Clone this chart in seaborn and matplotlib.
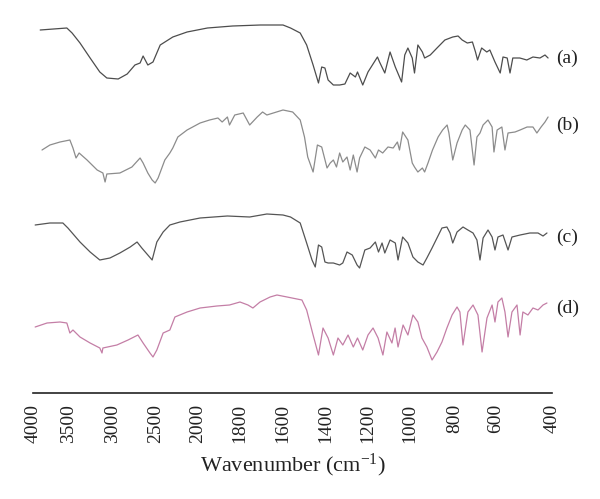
import numpy as np
import matplotlib
matplotlib.use("Agg")
import matplotlib.pyplot as plt
import matplotlib.transforms as mtransforms
import seaborn as sns

# FTIR spectra (a)-(d), transmittance in arbitrary stacked units
wn_a = [3900, 3530, 3465, 3375, 3260, 3150, 3070, 2940, 2835, 2745, 2685, 2650, 2595, 2535, 2450,
        2300, 2130, 1955, 1835, 1705, 1600, 1565, 1520, 1490, 1460, 1435, 1420, 1405, 1390, 1365,
        1335, 1310, 1285, 1260, 1250, 1225, 1200, 1155, 1145, 1120, 1095, 1070, 1040, 1025, 1010,
        990, 980, 965, 945, 935, 910, 880, 845, 810, 785, 765, 740, 715, 700, 690,
        670, 645, 630, 605, 585, 575, 560, 550, 540, 515, 490, 468, 443, 425, 414]
t_a = [370, 372, 367, 357, 342, 328, 322, 321, 326, 335, 337, 344, 335, 338, 355,
       363, 368, 372, 374, 375, 375, 372, 367, 355, 335, 317, 333, 332, 320, 315,
       315, 316, 327, 323, 328, 315, 328, 343, 338, 327, 348, 333, 318, 345, 352,
       342, 327, 355, 348, 342, 345, 352, 360, 363, 364, 360, 357, 358, 348, 340,
       352, 348, 350, 338, 327, 343, 342, 327, 342, 342, 340, 343, 342, 345, 342]

wn_b = [3875, 3765, 3625, 3490, 3455, 3420, 3385, 3295, 3180, 3115, 3090, 3070, 2920, 2780, 2685,
        2650, 2595, 2545, 2510, 2475, 2395, 2335, 2300, 2240, 2130, 1990, 1945, 1905, 1885, 1860,
        1850, 1825, 1785, 1755, 1720, 1695, 1675, 1600, 1555, 1520, 1500, 1485, 1460, 1440, 1420,
        1395, 1380, 1365, 1350, 1335, 1320, 1300, 1285, 1270, 1252, 1240, 1215, 1190, 1165, 1150,
        1130, 1105, 1080, 1060, 1050, 1035, 1010, 990, 980, 965, 945, 935, 920, 900, 875,
        855, 835, 827, 810, 790, 765, 750, 727, 707, 693, 678, 663, 639, 619, 610,
        596, 579, 568, 557, 532, 514, 489, 468, 454, 439, 425, 414]
t_b = [250, 255, 258, 260, 252, 242, 247, 240, 230, 227, 218, 226, 227, 233, 242,
       237, 227, 220, 217, 222, 240, 247, 252, 263, 270, 277, 280, 282, 278, 283,
       275, 285, 287, 275, 283, 288, 285, 290, 288, 280, 263, 243, 228, 255, 253,
       232, 237, 240, 233, 247, 238, 243, 230, 245, 228, 242, 253, 250, 242, 250,
       247, 253, 252, 258, 250, 268, 260, 237, 233, 228, 232, 228, 237, 250, 263,
       270, 275, 267, 240, 257, 270, 275, 270, 235, 263, 267, 275, 280, 273, 248,
       270, 273, 250, 267, 268, 270, 273, 273, 267, 273, 278, 283]

wn_c = [3970, 3765, 3585, 3515, 3375, 3260, 3150, 3035, 2920, 2800, 2720, 2665, 2595, 2545, 2490,
        2415, 2335, 2215, 1990, 1860, 1755, 1675, 1600, 1565, 1520, 1490, 1465, 1450, 1435, 1420,
        1405, 1390, 1365, 1335, 1320, 1300, 1275, 1252, 1240, 1215, 1190, 1165, 1150, 1133, 1120,
        1095, 1070, 1057, 1035, 1010, 987, 965, 942, 925, 902, 880, 858, 836, 822, 810,
        790, 761, 737, 712, 693, 678, 663, 639, 619, 605, 593, 575, 557, 543, 514,
        479, 450, 432, 418]
t_c = [175, 177, 177, 172, 158, 148, 140, 142, 147, 153, 158, 152, 145, 140, 158,
       168, 175, 178, 182, 184, 183, 186, 185, 183, 177, 157, 140, 133, 155, 153,
       138, 137, 137, 135, 137, 148, 145, 135, 132, 150, 152, 158, 148, 157, 147,
       160, 157, 140, 163, 157, 143, 138, 135, 142, 152, 162, 172, 173, 167, 157,
       168, 173, 170, 167, 160, 140, 162, 170, 163, 150, 163, 165, 150, 163, 165,
       167, 167, 164, 167]

wn_d = [3970, 3805, 3625, 3530, 3490, 3455, 3375, 3260, 3150, 3125, 3115, 2955, 2825, 2710, 2650,
        2570, 2535, 2490, 2415, 2335, 2275, 2130, 1990, 1910, 1850, 1800, 1763, 1740, 1707, 1660,
        1628, 1581, 1512, 1490, 1460, 1435, 1414, 1390, 1365, 1343, 1320, 1295, 1270, 1250, 1225,
        1200, 1176, 1152, 1129, 1110, 1086, 1071, 1057, 1033, 1010, 987, 965, 947, 925, 902,
        880, 858, 836, 813, 790, 776, 761, 737, 712, 688, 668, 644, 619, 605, 593,
        579, 568, 557, 543, 525, 514, 504, 486, 468, 450, 432, 418]
t_d = [73, 77, 78, 77, 67, 70, 63, 57, 52, 47, 52, 55, 60, 65, 57,
       47, 43, 50, 67, 70, 83, 88, 92, 94, 95, 98, 95, 92, 98, 103,
       105, 103, 100, 90, 65, 45, 72, 62, 45, 62, 55, 65, 53, 62, 50,
       65, 72, 62, 45, 68, 57, 72, 53, 75, 65, 85, 78, 62, 53, 40,
       48, 58, 72, 85, 93, 88, 55, 88, 95, 85, 48, 82, 95, 78, 98,
       102, 88, 63, 88, 95, 65, 88, 85, 92, 90, 95, 97]

labels = ["(a)", "(b)", "(c)", "(d)"]
label_y = [342, 275, 163, 92]
colors = ["#4d4d4d", "#8c8c8c", "#555555", "#c47ea6"]

tick_wn = [4000, 3500, 3000, 2500, 2000, 1800, 1600, 1400, 1200, 1000, 800, 600, 400]

# broken (piecewise linear) wavenumber axis like the original figure
knot_pos = [33, 69, 113, 156, 198, 240, 283, 326, 368, 410, 455, 496, 552]
kw = np.array(tick_wn[::-1], dtype=float)
kp = -np.array(knot_pos[::-1], dtype=float)


def fwd(w):
    return np.interp(w, kw, kp)


def inv(p):
    return np.interp(p, kp, kw)


sns.set_theme(style="white")
plt.rcParams["font.family"] = ["Liberation Serif", "DejaVu Serif"]
plt.rcParams["mathtext.default"] = "regular"

fig = plt.figure(figsize=(6, 4.99), dpi=100)
ax = fig.add_axes([33 / 600, 106 / 499, 519 / 600, 383 / 499])
ax.set_xscale("function", functions=(fwd, inv))

for wn, t, c in zip([wn_a, wn_b, wn_c, wn_d], [t_a, t_b, t_c, t_d], colors):
    sns.lineplot(x=wn, y=t, ax=ax, color=c, lw=0.9, sort=False, estimator=None)

ax.set_xlim(4000, 400)
ax.set_ylim(7, 390)
ax.set_xticks(tick_wn)
ax.set_xticklabels([str(v) for v in tick_wn], rotation=90, fontsize=14)
ax.xaxis.set_minor_locator(matplotlib.ticker.NullLocator())
ax.tick_params(axis="x", direction="in", length=4, width=1.1, color="#222222",
               pad=8, labelcolor="#222222")
ax.set_yticks([])
ax.set_xlabel("Wavenumber (cm$^{-1}$)", fontsize=16, color="#222222", labelpad=6)

for s in ["left", "top", "right"]:
    ax.spines[s].set_visible(False)
ax.spines["bottom"].set_color("#222222")
ax.spines["bottom"].set_linewidth(1.2)

trans = mtransforms.blended_transform_factory(ax.transAxes, ax.transData)
for lab, y in zip(labels, label_y):
    ax.text(1.008, y, lab, transform=trans, ha="left", va="center",
            fontsize=14, color="#222222", clip_on=False)

fig.savefig("out.png", dpi=100, facecolor="white")
